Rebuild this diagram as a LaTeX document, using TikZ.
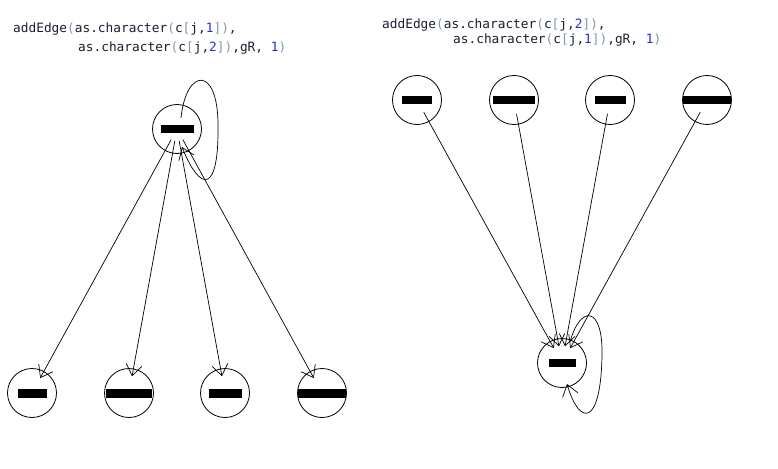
\documentclass[tikz,border=0pt]{standalone}
\usepackage{xcolor}
\usepackage{fontspec}
\setmonofont{DejaVu Sans Mono}
\usetikzlibrary{arrows.meta}
\definecolor{parcor}{HTML}{7A9AAE}
\definecolor{numcor}{HTML}{2B2BD6}
\definecolor{txtcor}{HTML}{1C1C30}
\newcommand{\codep}[1]{\textcolor{parcor}{#1}}
\newcommand{\coden}[1]{\textcolor{numcor}{#1}}
\tikzset{
  vertice/.style={draw, circle, minimum size=49pt, inner sep=0pt, line width=0.8pt},
  aresta/.style={line width=0.7pt, -{Straight Barb[length=11pt,width=16pt]}},
  codigo/.style={anchor=base west, inner sep=0pt, text=txtcor,
    font=\ttfamily\fontsize{12.8}{15}\selectfont}
}

\begin{document}
\begin{tikzpicture}[x=1pt,y=-1pt]
  \useasboundingbox (0,0) rectangle (778,468);
  % codigo R, lado esquerdo
  \node[codigo] (codA1) at (13,33) {addEdge\codep{(}as.character\codep{(}c\codep{[}j,\coden{1}\codep{])},};
  \node[codigo] (codA2) at (78,52) {as.character\codep{(}c\codep{[}j,\coden{2}\codep{])},gR, \coden{1}\codep{)}};
  % codigo R, lado direito
  \node[codigo] (codB1) at (382,29) {addEdge\codep{(}as.character\codep{(}c\codep{[}j,\coden{2}\codep{])},};
  \node[codigo] (codB2) at (453,44) {as.character\codep{(}c\codep{[}j,\coden{1}\codep{])},gR, \coden{1}\codep{)}};
  % grafo da esquerda: um no para quatro
  \node[vertice] (topo) at (177,129) {\rule{33pt}{8pt}};
  \node[vertice] (b1) at (32,393) {\rule{29pt}{9pt}};
  \node[vertice] (b2) at (129,393) {\rule{46pt}{9pt}};
  \node[vertice] (b3) at (225,393) {\rule{33pt}{9pt}};
  \node[vertice] (b4) at (322,393) {\rule{48pt}{9pt}};
  \foreach \b in {b1,b2,b3,b4}
    \draw[aresta, shorten <=12pt, shorten >=17pt] (topo.center) -- (\b.center);
  % laco no no de cima
  \draw[aresta] ([shift={(4,-11)}]topo.center) .. controls (186,68) and (218,65) .. (218,125)
    .. controls (219,195) and (200,192) .. ([shift={(5,18)}]topo.center);
  % grafo da direita: quatro nos para um
  \node[vertice] (r1) at (417,100) {\rule{30pt}{9pt}};
  \node[vertice] (r2) at (514,100) {\rule{42pt}{9pt}};
  \node[vertice] (r3) at (610,100) {\rule{31pt}{9pt}};
  \node[vertice] (r4) at (707,100) {\rule{48pt}{9pt}};
  \node[vertice] (alvo) at (562,363) {\rule{27pt}{8pt}};
  \foreach \r in {r1,r2,r3,r4}
    \draw[aresta, shorten <=14pt, shorten >=17pt] (\r.center) -- (alvo.center);
  % laco no no de baixo
  \draw[aresta] ([shift={(8,-21)}]alvo.center) .. controls (580,305) and (603,305) .. (602,355)
    .. controls (601,425) and (580,428) .. ([shift={(5,21)}]alvo.center);
\end{tikzpicture}
\end{document}
